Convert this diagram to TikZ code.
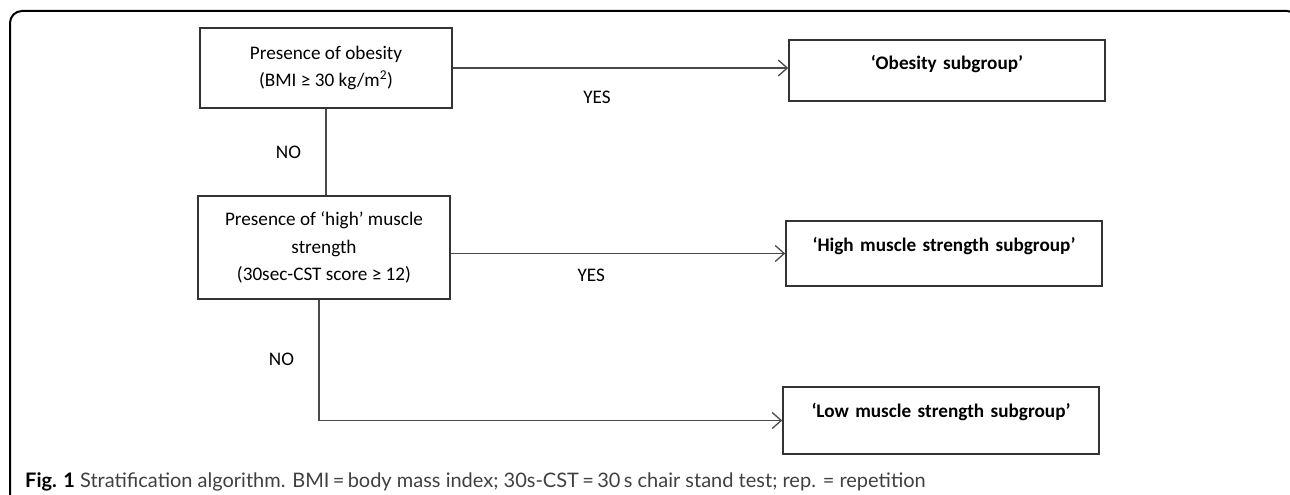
\documentclass[tikz,border=0pt]{standalone}
\usepackage{fontspec}
\setmainfont{Carlito}
\newfontfamily\capfont{Lato}
\usetikzlibrary{arrows.meta}
\definecolor{boxgray}{HTML}{333333}
\definecolor{linegray}{HTML}{4a4a4a}
\definecolor{capgray}{HTML}{404040}

\begin{document}
\begin{tikzpicture}[x=1pt,y=-1pt,
    question/.style={draw=boxgray, line width=1.6pt, inner sep=0pt, minimum width=252pt, align=center, font=\fontsize{19.2}{27.5}\selectfont},
    outcome/.style={draw=boxgray, line width=1.6pt, inner sep=0pt, text width=316pt, align=center, text height=30pt, font=\fontsize{19.2}{22}\selectfont\bfseries},
    flow/.style={draw=linegray, line width=1.3pt},
    arr/.style={flow, -{Straight Barb[length=9pt,width=16pt]}},
    answer/.style={font=\fontsize{19.2}{22}\selectfont}]
    \useasboundingbox (0,0) rectangle (1290,495);

    % --- Outer frame (open at the bottom) ---
    \draw[line width=2pt, rounded corners=12pt] (10,495) -- (10,11) -- (1299,11) -- (1299,495);

    % --- Decision boxes ---
    \node[question, minimum height=80pt] (obq) at (326,68) {Presence of obesity\\(BMI ≥ 30 kg/m\textsuperscript{2})};
    \node[question, minimum height=103pt] (hiq) at (324,247.5) {Presence of ‘high’ muscle\\strength\\(30sec-CST score ≥ 12)};

    % --- Subgroups ---
    \node[outcome, text depth=31pt] (obs) at (947,70.5) {‘Obesity subgroup’};
    \node[outcome, text depth=35pt] (hms) at (944,253.5) {‘High muscle strength subgroup’};
    \node[outcome, text depth=37pt] (lms) at (941,420.5) {‘Low muscle strength subgroup’};

    % --- Connectors ---
    \draw[arr] (obq.east) -- (obq.east -| obs.west) node[answer, pos=0.43, below=19pt] (yes1) {YES};
    \draw[flow] (obq.south) -- (obq.south |- hiq.north) node[answer, midway, left=21pt] (no1) {NO};
    \draw[arr] (hiq.east |- hms.west) -- (hms.west) node[answer, pos=0.42, below=12pt] (yes2) {YES};
    \coordinate (bend) at ([xshift=-5pt]hiq.south |- lms.west);
    \draw[arr] ([xshift=-5pt]hiq.south) -- (bend) node[answer, pos=0.49, left=21pt] (no2) {NO} -- (lms.west);

    % --- Caption ---
    \node[anchor=base west, inner sep=0pt, font=\capfont\fontsize{20}{22}\selectfont, text=capgray] (cap) at (25,487)
        {{\bfseries\color{black}Fig. 1} Stratification algorithm. BMI\,=\,body mass index; 30s-CST\,=\,30\,s chair stand test; rep. = repetition};
\end{tikzpicture}
\end{document}
